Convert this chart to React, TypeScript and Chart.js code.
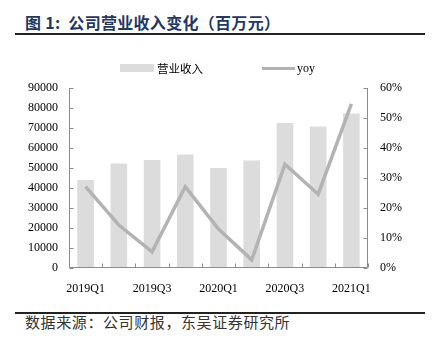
import React, { useEffect, useRef } from "react";
import { Chart, registerables } from "chart.js";

Chart.register(...registerables);

const categories = ["2019Q1", "2019Q2", "2019Q3", "2019Q4", "2020Q1", "2020Q2", "2020Q3", "2020Q4", "2021Q1"];
const revenue = [44000, 52300, 54000, 56800, 50000, 53800, 72500, 70800, 77300];
const yoy = [27.1, 14.3, 5.4, 27.1, 13.0, 2.7, 34.6, 24.6, 54.7];
const leftTicks = [0, 90000, 10000];
const rightTicks = [0, 60, 10];

const AXIS = "#8c8c8c";
const BAR = "#dcdcdc";
const LINE = "#b3b3b3";
const SERIF = "'Liberation Serif', 'Times New Roman', serif";

const insideTicks = {
  id: "insideTicks",
  afterDraw(chart: any) {
    const { ctx, chartArea, scales } = chart;
    const { left, right, top, bottom } = chartArea;
    ctx.save();
    ctx.strokeStyle = AXIS;
    ctx.lineWidth = 1;
    const seg = (x1: number, y1: number, x2: number, y2: number) => {
      ctx.beginPath();
      ctx.moveTo(x1, y1);
      ctx.lineTo(x2, y2);
      ctx.stroke();
    };
    const L = Math.round(left) + 0.5;
    const R = Math.round(right) - 0.5;
    const B = Math.round(bottom) - 0.5;
    seg(L, top, L, B);
    seg(R, top, R, B);
    seg(L, B, R, B);
    scales.y.ticks.forEach((_t: any, i: number) => {
      const y = Math.round(scales.y.getPixelForTick(i)) + 0.5;
      seg(L, y, L + 4, y);
    });
    scales.y1.ticks.forEach((_t: any, i: number) => {
      const y = Math.round(scales.y1.getPixelForTick(i)) + 0.5;
      seg(R - 4, y, R, y);
    });
    const n = categories.length;
    for (let i = 0; i <= n; i++) {
      const x = Math.round(left + (i * (right - left)) / n) + 0.5;
      seg(x, B, x, B - 4);
    }
    ctx.restore();
  },
};

export default function App() {
  const ref = useRef<HTMLCanvasElement>(null);
  useEffect(() => {
    if (!ref.current) return;
    const chart = new Chart(ref.current, {
      type: "bar",
      data: {
        labels: categories,
        datasets: [
          {
            type: "line",
            label: "yoy",
            data: yoy,
            yAxisID: "y1",
            borderColor: LINE,
            borderWidth: 3.5,
            pointRadius: 0,
            tension: 0,
            order: 0,
          } as any,
          {
            type: "bar",
            label: "营业收入",
            data: revenue,
            yAxisID: "y",
            backgroundColor: BAR,
            barPercentage: 0.5,
            categoryPercentage: 1,
            order: 1,
          },
        ],
      },
      options: {
        responsive: false,
        animation: false,
        layout: { padding: { top: 88, left: 0, right: 0, bottom: 0 } },
        plugins: { legend: { display: false }, tooltip: { enabled: false } },
        scales: {
          x: {
            type: "category",
            offset: true,
            grid: { display: false, offset: true },
            border: { display: false },
            ticks: {
              autoSkip: false,
              maxRotation: 0,
              padding: 6,
              color: "#000",
              font: { family: SERIF, size: 12 },
              callback: (_v: any, i: number) => (i % 2 === 0 ? categories[i] : ""),
            },
            afterFit: (s: any) => { s.height = 32; },
          },
          y: {
            position: "left",
            min: leftTicks[0],
            max: leftTicks[1],
            grid: { display: false, drawTicks: false },
            border: { display: false },
            ticks: {
              stepSize: leftTicks[2],
              padding: 11,
              color: "#000",
              font: { family: SERIF, size: 12 },
              callback: (v: any) => String(v),
            },
            afterFit: (s: any) => { s.width = 69; },
          },
          y1: {
            position: "right",
            min: rightTicks[0],
            max: rightTicks[1],
            grid: { display: false, drawTicks: false },
            border: { display: false },
            ticks: {
              stepSize: rightTicks[2],
              padding: 12,
              color: "#000",
              font: { family: SERIF, size: 12 },
              callback: (v: any) => `${v}%`,
            },
            afterFit: (s: any) => { s.width = 67; },
          },
        },
      },
      plugins: [insideTicks],
    });
    return () => chart.destroy();
  }, []);

  return (
    <div style={{ position: "absolute", left: 0, top: 0, width: 435, height: 346, background: "#fff", overflow: "hidden" }}>
      <div
        style={{
          position: "absolute", left: 25, top: 11, fontFamily: "'Noto Sans CJK SC', sans-serif",
          fontWeight: "bold", fontSize: 16, letterSpacing: 0.3, lineHeight: "22px", color: "#1f3864", whiteSpace: "nowrap",
        }}
      >
        图 1:&nbsp; 公司营业收入变化（百万元）
      </div>
      <div style={{ position: "absolute", left: 15, top: 33, width: 410, height: 2, background: "#222" }} />
      <canvas ref={ref} width={435} height={300} style={{ position: "absolute", left: 0, top: 0 }} />
      <div style={{ position: "absolute", left: 120, top: 64, width: 34, height: 8, background: BAR }} />
      <div
        style={{ position: "absolute", left: 157, top: 60, fontFamily: "'Noto Sans CJK SC', serif", fontSize: 11.5, lineHeight: "16px", color: "#000", whiteSpace: "nowrap" }}
      >
        营业收入
      </div>
      <div style={{ position: "absolute", left: 262, top: 67, width: 33, height: 3, background: LINE }} />
      <div
        style={{ position: "absolute", left: 297, top: 60, fontFamily: SERIF, fontSize: 12, lineHeight: "16px", color: "#000", whiteSpace: "nowrap" }}
      >
        yoy
      </div>
      <div style={{ position: "absolute", left: 15, top: 312, width: 410, height: 2, background: "#222" }} />
      <div
        style={{ position: "absolute", left: 25, top: 313, fontFamily: "'Noto Sans CJK SC', serif", fontSize: 15, letterSpacing: 0.6, lineHeight: "18px", color: "#333", whiteSpace: "nowrap" }}
      >
        数据来源：公司财报，东吴证券研究所
      </div>
    </div>
  );
}
